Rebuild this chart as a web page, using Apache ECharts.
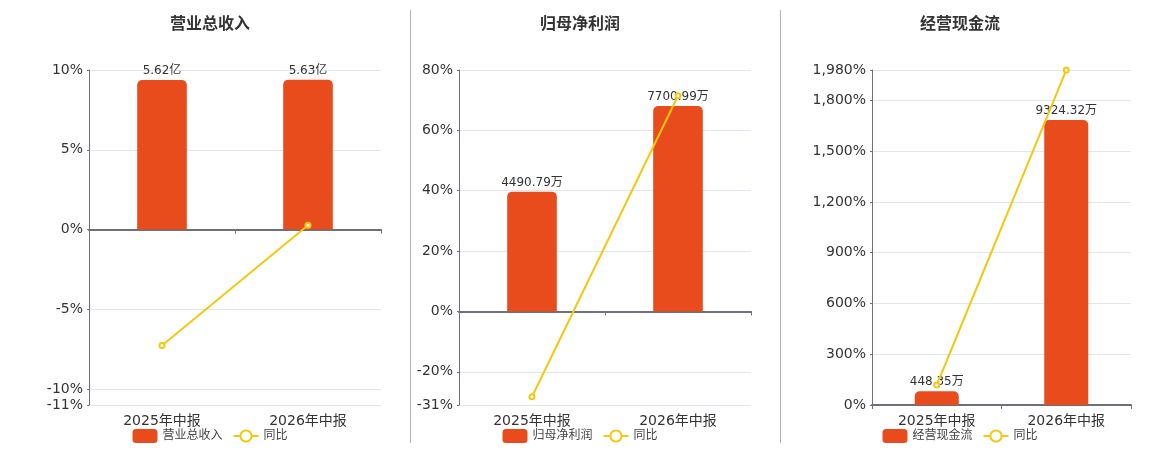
<!DOCTYPE html>
<html lang="zh">
<head>
<meta charset="UTF-8">
<title>财务指标</title>
<style>
  body { margin: 0; background: #fff; }
  .wrap { position: relative; width: 1160px; height: 450px; }
  .panel { position: absolute; top: 0; width: 380px; height: 450px; }
  .sep { position: absolute; top: 10px; height: 433px; width: 0; border-left: 1px solid #b4b4b4; }
</style>
</head>
<body>
<div class="wrap">
  <div class="panel" id="p1" style="left:20px"></div>
  <div class="panel" id="p2" style="left:390px"></div>
  <div class="panel" id="p3" style="left:770px"></div>
  <div class="sep" style="left:410px"></div>
  <div class="sep" style="left:780px"></div>
</div>
<script src="https://cdn.jsdelivr.net/npm/echarts@6/dist/echarts.min.js"></script>
<script>
  var categories = ['2025年中报', '2026年中报'];

  // 营业总收入 (亿) 与同比 (%)
  var revenueValues = [5.62, 5.63];
  var revenueYoy = [-7.27, 0.27];
  var revenueRange = [-11, 10];

  // 归母净利润 (万) 与同比 (%)
  var profitValues = [4490.79, 7700.99];
  var profitYoy = [-28.27, 71.48];
  var profitRange = [-31, 80];

  // 经营现金流 (万) 与同比 (%)
  var cashValues = [448.35, 9324.32];
  var cashYoy = [118.2, 1979.7];
  var cashRange = [0, 1980];

  var barColor = '#e84b1c';
  var lineColor = '#f2c811';
  var font = "'DejaVu Sans', 'Noto Sans CJK SC', sans-serif";

  function pct(v) {
    return String(v).replace(/\B(?=(\d{3})+(?!\d))/g, ',') + '%';
  }

  var charts = [];

  function makeChart(el, p) {
    var chart = echarts.init(el);
    chart.setOption({
      animation: false,
      textStyle: { fontFamily: font },
      title: {
        text: p.title,
        left: 'center',
        top: 12,
        textStyle: { fontSize: 16, fontWeight: 'bold', color: '#333', fontFamily: font }
      },
      legend: {
        bottom: 2,
        left: 'center',
        itemWidth: 25,
        itemHeight: 14,
        itemGap: 10,
        textStyle: { fontSize: 12, color: '#444', fontFamily: font },
        data: [p.title, '同比']
      },
      grid: { left: p.left, right: 19, top: 70, bottom: 45 },
      xAxis: [
        {
          type: 'category',
          data: categories,
          position: 'bottom',
          axisLine: { show: false, onZero: false },
          axisTick: { show: false },
          axisLabel: { fontSize: 14, color: '#333', margin: 9, fontFamily: font }
        },
        {
          // 零线
          type: 'category',
          data: categories,
          position: 'bottom',
          axisLine: { onZero: true, onZeroAxisIndex: 0, lineStyle: { color: '#6e7079', width: 2 } },
          axisTick: { show: true, length: 4, lineStyle: { color: '#6e7079' } },
          axisLabel: { show: false }
        }
      ],
      yAxis: [
        {
          type: 'value',
          min: p.range[0],
          max: p.range[1],
          axisLine: { show: true, lineStyle: { color: '#6e7079' } },
          axisTick: { show: true, length: 2 },
          axisLabel: { fontSize: 14, color: '#333', margin: 6, padding: [3, 0, 0, 0], formatter: pct, fontFamily: font },
          splitLine: { lineStyle: { color: '#e0e6f1' } }
        },
        {
          type: 'value',
          show: false,
          min: p.barRange[0],
          max: p.barRange[1],
          splitLine: { show: false }
        }
      ],
      series: [
        {
          name: p.title,
          type: 'bar',
          xAxisIndex: 0,
          yAxisIndex: 1,
          data: p.values,
          barWidth: '34%',
          itemStyle: { color: barColor, borderRadius: [5, 5, 0, 0] },
          label: {
            show: true,
            position: 'top',
            distance: 3,
            fontSize: 12,
            color: '#333',
            fontFamily: font,
            formatter: function (params) {
              return params.value.toFixed(2) + p.unit;
            }
          }
        },
        {
          name: '同比',
          type: 'line',
          xAxisIndex: 0,
          yAxisIndex: 0,
          data: p.yoy,
          symbol: 'emptyCircle',
          symbolSize: 5,
          lineStyle: { color: lineColor, width: 2 },
          itemStyle: { color: lineColor }
        }
      ]
    });
    charts.push(chart);
  }

  makeChart(document.getElementById('p1'), {
    title: '营业总收入', unit: '亿', left: 69,
    values: revenueValues, yoy: revenueYoy, range: revenueRange, barRange: [-6.6, 6.0]
  });
  makeChart(document.getElementById('p2'), {
    title: '归母净利润', unit: '万', left: 69,
    values: profitValues, yoy: profitYoy, range: profitRange, barRange: [-3507, 9050]
  });
  makeChart(document.getElementById('p3'), {
    title: '经营现金流', unit: '万', left: 102,
    values: cashValues, yoy: cashYoy, range: cashRange, barRange: [0, 10960]
  });

  window.onresize = function () {
    for (var i = 0; i < charts.length; i++) {
      charts[i].resize();
    }
  };
</script>
</body>
</html>
